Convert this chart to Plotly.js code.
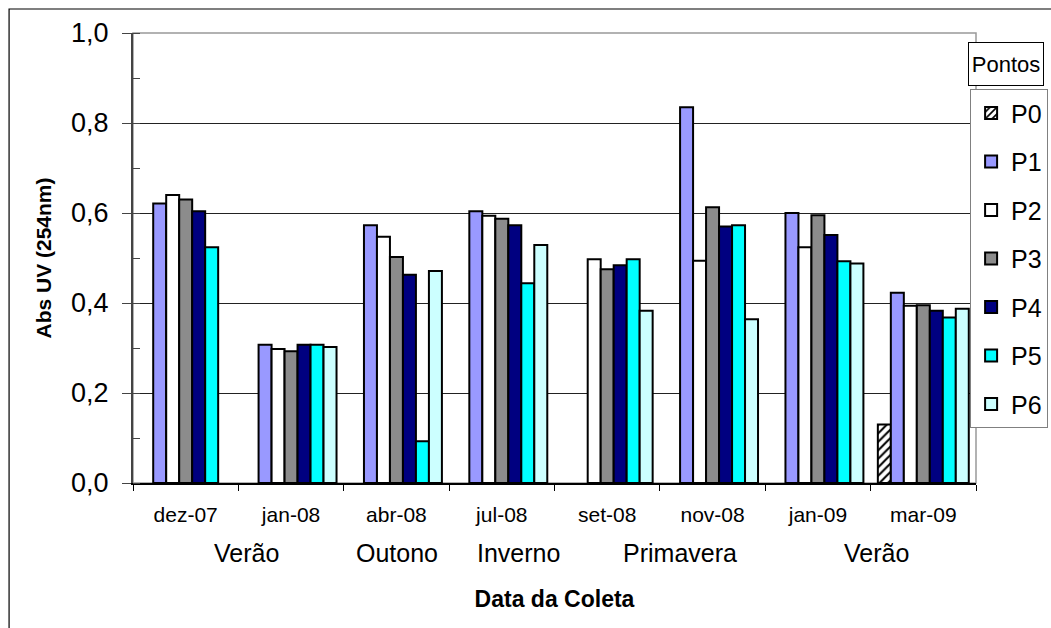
<!DOCTYPE html>
<html>
<head>
<meta charset="utf-8">
<script src="https://cdn.plot.ly/plotly-3.0.1.min.js"></script>
<style>
  html, body { margin: 0; padding: 0; background: #fff; }
  #chart { width: 1051px; height: 628px; }
</style>
</head>
<body>
<div id="chart"></div>
<script>
// Abs UV (254nm) por ponto de coleta
const datas = ['dez-07', 'jan-08', 'abr-08', 'jul-08', 'set-08', 'nov-08', 'jan-09', 'mar-09'];
const pontos = ['P0', 'P1', 'P2', 'P3', 'P4', 'P5', 'P6'];

const p0 = [null, null, null, null, null, null, null, 0.130];
const p1 = [0.621, 0.307, 0.573, 0.604, null, 0.835, 0.600, 0.423];
const p2 = [0.640, 0.298, 0.547, 0.594, 0.497, 0.494, 0.524, 0.394];
const p3 = [0.630, 0.293, 0.502, 0.587, 0.475, 0.613, 0.595, 0.395];
const p4 = [0.604, 0.307, 0.463, 0.573, 0.484, 0.570, 0.551, 0.383];
const p5 = [0.524, 0.307, 0.093, 0.444, 0.497, 0.573, 0.493, 0.368];
const p6 = [null, 0.302, 0.471, 0.529, 0.383, 0.364, 0.488, 0.387];

const estacoes = ['Verão', 'Outono', 'Inverno', 'Primavera', 'Verão'];
const estacaoPos = [0.58, 2.01, 3.16, 4.69, 6.56];   // centro do rótulo, em índices de categoria

const series = [p0, p1, p2, p3, p4, p5, p6];
const cores = ['#ffffff', '#9999ff', '#ffffff', '#8c8c8c', '#000080', '#00ffff', '#ccffff'];

const traces = series.map((vals, i) => {
    const t = {
        type: 'bar',
        name: pontos[i],
        x: datas,
        y: vals,
        legendgroup: pontos[i],
        marker: { color: cores[i], line: { color: '#000', width: 2 } },
        hoverinfo: 'name+x+y'
    };
    if (i === 0) {
        t.marker.pattern = { shape: '/', fgcolor: '#000', bgcolor: '#fff', size: 6, solidity: 0.35 };
    }
    return t;
});

const font = 'Liberation Sans, Arial, sans-serif';

const annotations = estacoes.map((txt, i) => ({
    text: txt,
    x: estacaoPos[i], xref: 'x',
    y: -0.155, yref: 'paper',
    xanchor: 'center', yanchor: 'middle',
    showarrow: false,
    font: { family: font, size: 25, color: '#000' }
}));

// caixa do título da legenda
annotations.push({
    text: 'Pontos',
    x: 1.035, xref: 'paper',
    y: 0.931, yref: 'paper',
    xanchor: 'center', yanchor: 'middle',
    showarrow: false,
    width: 72, height: 40,
    bgcolor: '#fff', bordercolor: '#000', borderwidth: 1, borderpad: 1,
    font: { family: font, size: 22, color: '#000' }
});

const layout = {
    width: 1051,
    height: 628,
    margin: { l: 133, r: 75, t: 33, b: 145, autoexpand: false },
    paper_bgcolor: '#fff',
    plot_bgcolor: '#fff',
    separators: ',.',
    barmode: 'group',
    bargap: 0.137,
    bargroupgap: 0,
    font: { family: font, color: '#000' },
    showlegend: true,
    legend: {
        x: 0.993, xanchor: 'left',
        y: 0.875, yanchor: 'top',
        bgcolor: '#fff',
        bordercolor: '#808080',
        borderwidth: 1,
        tracegroupgap: 13,
        font: { family: font, size: 25, color: '#000' }
    },
    xaxis: {
        type: 'category',
        range: [-0.5, 7.5],
        showline: true, linecolor: '#000', linewidth: 1.5,
        ticks: 'outside', tickson: 'boundaries', ticklen: 6, tickcolor: '#000',
        ticklabelstandoff: 12,
        tickfont: { family: font, size: 21, color: '#000' },
        showgrid: false,
        zeroline: false,
        title: {
            text: '<b>Data da Coleta</b>',
            standoff: 66,
            font: { family: font, size: 23, color: '#000' }
        }
    },
    yaxis: {
        range: [0, 1.0],
        dtick: 0.2,
        tickformat: '.1f',
        showline: true, linecolor: '#444', linewidth: 2,
        ticks: 'outside', ticklen: 9, tickcolor: '#444',
        ticklabelstandoff: 8,
        tickfont: { family: font, size: 27, color: '#000' },
        showgrid: true, gridcolor: '#222', gridwidth: 1,
        zeroline: false,
        minor: { dtick: 0.1, ticks: 'inside', ticklen: 7, tickcolor: '#444', showgrid: false },
        title: {
            text: '<b>Abs UV (254nm)</b>',
            standoff: 14,
            font: { family: font, size: 21, color: '#000' }
        }
    },
    shapes: [
        // borda da área de plotagem
        { type: 'rect', xref: 'paper', yref: 'paper', x0: 0, x1: 1, y0: 0, y1: 1,
          line: { color: '#999', width: 1.5 }, layer: 'below' },
        // borda externa do gráfico
        { type: 'rect', xref: 'paper', yref: 'paper', x0: -0.147, x1: 1.3, y0: -0.6, y1: 1.0533,
          line: { color: '#000', width: 1.2 } }
    ],
    annotations: annotations
};

Plotly.newPlot('chart', traces, layout, { displayModeBar: false, staticPlot: true });
</script>
</body>
</html>
